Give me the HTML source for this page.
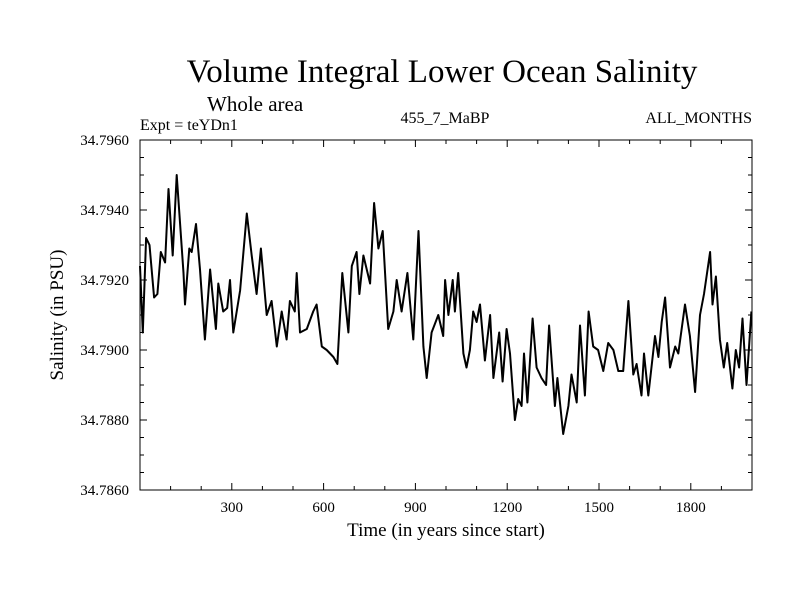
<!DOCTYPE html>
<html><head><meta charset="utf-8"><style>
body{margin:0;background:#fff}
svg{display:block;font-family:"Liberation Serif",serif}
</style></head><body>
<svg width="800" height="600" id="c">
<text x="442" y="82" font-size="33" text-anchor="middle">Volume Integral Lower Ocean Salinity</text>
<text x="207" y="111" font-size="21">Whole area</text>
<text x="140" y="130" font-size="16">Expt = teYDn1</text>
<text x="445" y="123" font-size="16" text-anchor="middle">455_7_MaBP</text>
<text x="752" y="123" font-size="16" text-anchor="end">ALL_MONTHS</text>
<text x="446" y="536" font-size="19" text-anchor="middle">Time (in years since start)</text>
<text transform="translate(63,315) rotate(-90)" font-size="19" text-anchor="middle">Salinity (in PSU)</text>
<g id="axes"></g>
<rect x="140" y="140" width="612" height="350" fill="none" stroke="#000" stroke-width="1"/>
</svg>
<script>
const years=[0,9,20,31,46,57,68,82,93,107,120,142,147,161,169,183,196,212,229,248,256,272,285,294,305,327,349,365,381,395,414,430,447,463,479,490,506,512,523,545,566,577,594,610,632,645,661,681,692,708,717,730,752,765,779,793,811,828,839,855,874,893,910,926,937,953,975,991,997,1008,1022,1029,1040,1057,1067,1078,1089,1100,1111,1127,1144,1155,1174,1185,1198,1209,1225,1236,1247,1255,1266,1283,1296,1312,1327,1337,1356,1364,1383,1400,1410,1427,1438,1454,1466,1481,1497,1514,1530,1547,1563,1579,1596,1612,1623,1639,1647,1661,1683,1694,1705,1716,1732,1749,1759,1781,1797,1814,1830,1843,1863,1871,1882,1895,1908,1919,1936,1947,1958,1969,1982,1998];
const salinity=[34.7924,34.7905,34.7932,34.7930,34.7915,34.7916,34.7928,34.7925,34.7946,34.7927,34.7950,34.7922,34.7913,34.7929,34.7928,34.7936,34.7923,34.7903,34.7923,34.7906,34.7919,34.7911,34.7912,34.7920,34.7905,34.7917,34.7939,34.7927,34.7916,34.7929,34.7910,34.7914,34.7901,34.7911,34.7903,34.7914,34.7911,34.7922,34.7905,34.7906,34.7911,34.7913,34.7901,34.7900,34.7898,34.7896,34.7922,34.7905,34.7924,34.7928,34.7916,34.7927,34.7919,34.7942,34.7929,34.7934,34.7906,34.7911,34.7920,34.7911,34.7922,34.7903,34.7934,34.7901,34.7892,34.7905,34.7910,34.7904,34.7920,34.7910,34.7920,34.7911,34.7922,34.7899,34.7895,34.7900,34.7911,34.7908,34.7913,34.7897,34.7910,34.7892,34.7905,34.7891,34.7906,34.7899,34.7880,34.7886,34.7884,34.7899,34.7885,34.7909,34.7895,34.7892,34.7890,34.7907,34.7884,34.7892,34.7876,34.7884,34.7893,34.7885,34.7907,34.7887,34.7911,34.7901,34.7900,34.7894,34.7902,34.7900,34.7894,34.7894,34.7914,34.7893,34.7896,34.7887,34.7899,34.7887,34.7904,34.7898,34.7908,34.7915,34.7895,34.7901,34.7899,34.7913,34.7904,34.7888,34.7910,34.7916,34.7928,34.7913,34.7921,34.7903,34.7895,34.7902,34.7889,34.7900,34.7895,34.7909,34.7890,34.7911];
const xTicks=[300,600,900,1200,1500,1800];
const yTicks=["34.7860","34.7880","34.7900","34.7920","34.7940","34.7960"];
const NS="http://www.w3.org/2000/svg";
const X0=140,X1=752,Y0=490,Y1=140,xmin=0,xmax=2000,ymin=34.786,ymax=34.796;
const xs=v=>X0+(v-xmin)/(xmax-xmin)*(X1-X0);
const ys=v=>Y0-(v-ymin)/(ymax-ymin)*(Y0-Y1);
const svg=document.getElementById('c'),g=document.getElementById('axes');
function ln(x1,y1,x2,y2){const l=document.createElementNS(NS,'line');l.setAttribute('x1',x1);l.setAttribute('y1',y1);l.setAttribute('x2',x2);l.setAttribute('y2',y2);l.setAttribute('stroke','#000');l.setAttribute('stroke-width','1');g.appendChild(l);return l;}
for(let v=100;v<2000;v+=100){const big=v%300===0,L=big?7:4;
const a=ln(xs(v),Y0,xs(v),Y0-L);


const b=ln(xs(v),Y1,xs(v),Y1+L);

}
xTicks.forEach(v=>{const t=document.createElementNS(NS,'text');t.setAttribute('x',xs(v));t.setAttribute('y',Y0+22);t.setAttribute('font-size','15');t.setAttribute('text-anchor','middle');t.textContent=v;


svg.appendChild(t);});
for(let i=1;i<20;i++){const v=ymin+i*0.0005,big=i%4===0,L=big?7:4;
const a=ln(X0,ys(v),X0+L,ys(v));


const b=ln(X1,ys(v),X1-L,ys(v));

}
yTicks.forEach(s=>{const t=document.createElementNS(NS,'text');t.setAttribute('x',129);t.setAttribute('y',ys(parseFloat(s))+5);t.setAttribute('font-size','15');t.setAttribute('text-anchor','end');t.textContent=s;


svg.appendChild(t);});
const p=document.createElementNS(NS,'polyline');
p.setAttribute('points',years.map((y,i)=>xs(y).toFixed(1)+','+ys(salinity[i]).toFixed(1)).join(' '));
p.setAttribute('fill','none');p.setAttribute('stroke','#000');p.setAttribute('stroke-width','2');p.setAttribute('stroke-linejoin','round');


svg.appendChild(p);
</script>
</body></html>
